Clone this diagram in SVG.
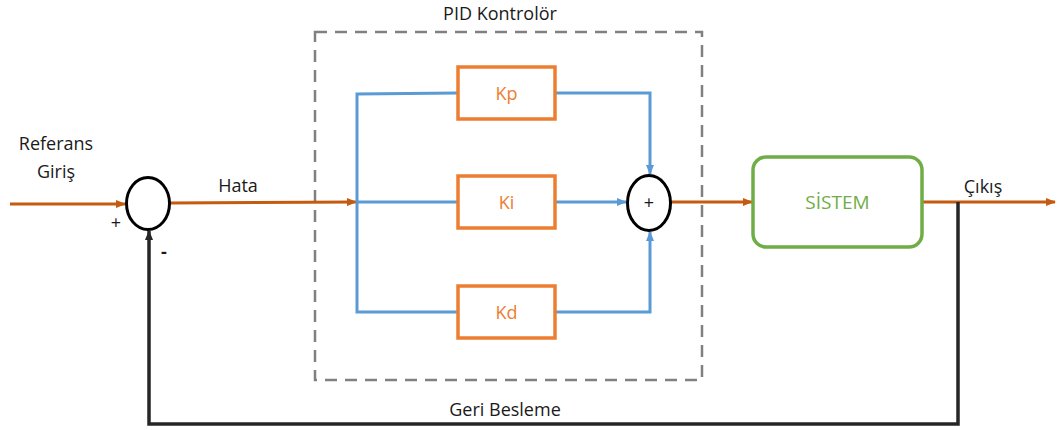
<svg xmlns="http://www.w3.org/2000/svg" width="1060" height="430" viewBox="0 0 1060 430">
  <style>
    .lbl { font-family: "Open Sans", "Liberation Sans", sans-serif; font-size: 18px; fill: #1a1a1a; }
    .gain { font-family: "Open Sans", "Liberation Sans", sans-serif; font-size: 18px; fill: #ED7D31; }
    .sys { font-family: "Open Sans", "Liberation Sans", sans-serif; font-size: 19px; fill: #70AD47; }
    .sig { fill: none; stroke: #C55A11; stroke-width: 3; }
    .branch { fill: none; stroke: #5B9BD5; stroke-width: 3; }
    .fb { fill: none; stroke: #262626; stroke-width: 3.5; }
    .gainbox { fill: #ffffff; stroke: #ED7D31; stroke-width: 3.5; }
    .sum { fill: #ffffff; stroke: #000000; stroke-width: 3; }
  </style>
  <defs>
    <marker id="arrOrange" markerWidth="10" markerHeight="8" refX="9" refY="4" orient="auto" markerUnits="userSpaceOnUse">
      <path d="M0,0 L10,4 L0,8 Z" fill="#C55A11"/>
    </marker>
    <marker id="arrBlue" markerWidth="10" markerHeight="8" refX="9" refY="4" orient="auto" markerUnits="userSpaceOnUse">
      <path d="M0,0 L10,4 L0,8 Z" fill="#5B9BD5"/>
    </marker>
    <marker id="arrBlack" markerWidth="10" markerHeight="8" refX="9" refY="4" orient="auto" markerUnits="userSpaceOnUse">
      <path d="M0,0 L10,4 L0,8 Z" fill="#262626"/>
    </marker>
  </defs>

  <rect width="1060" height="430" fill="#ffffff"/>

  <!-- controller boundary -->
  <g id="pid-frame">
    <rect x="315" y="32" width="387" height="348" fill="none" stroke="#808080" stroke-width="2.5" stroke-dasharray="12,8"/>
    <text class="lbl" x="500" y="20" text-anchor="middle">PID Kontrolör</text>
  </g>

  <!-- connectors -->
  <g id="connectors">
    <line class="sig" x1="10" y1="204" x2="125" y2="204" marker-end="url(#arrOrange)"/>
    <line class="sig" x1="170" y1="203" x2="356" y2="202" marker-end="url(#arrOrange)"/>
    <polyline class="branch" points="458,93 357,94 357,312 458,312"/>
    <line class="branch" x1="357" y1="202" x2="458" y2="202"/>
    <polyline class="branch" points="555,93 650,93 650,174" marker-end="url(#arrBlue)"/>
    <line class="branch" x1="555" y1="202" x2="626" y2="202" marker-end="url(#arrBlue)"/>
    <polyline class="branch" points="555,312 650,312 650,232" marker-end="url(#arrBlue)"/>
    <line class="sig" x1="671" y1="202" x2="752" y2="202" marker-end="url(#arrOrange)"/>
    <line class="sig" x1="922" y1="202" x2="1055" y2="202" marker-end="url(#arrOrange)"/>
    <polyline class="fb" points="958,202 958,424 149,424 149,231" marker-end="url(#arrBlack)"/>
  </g>

  <!-- input summing junction -->
  <g id="sum-error">
    <ellipse class="sum" cx="148" cy="203.5" rx="21.5" ry="26"/>
    <text class="lbl" x="116" y="229" text-anchor="middle" font-size="16">+</text>
    <text class="lbl" x="164" y="258" text-anchor="middle" font-size="22" font-weight="bold">-</text>
  </g>

  <g id="label-reference">
    <text class="lbl" x="56" y="150" text-anchor="middle">Referans</text>
    <text class="lbl" x="56" y="178" text-anchor="middle">Giriş</text>
  </g>
  <text id="label-error" class="lbl" x="238" y="192" text-anchor="middle">Hata</text>

  <g id="kp">
    <rect class="gainbox" x="458" y="67" width="97" height="52"/>
    <text class="gain" x="506.5" y="100" text-anchor="middle">Kp</text>
  </g>
  <g id="ki">
    <rect class="gainbox" x="458" y="176" width="97" height="52"/>
    <text class="gain" x="506.5" y="209" text-anchor="middle">Ki</text>
  </g>
  <g id="kd">
    <rect class="gainbox" x="458" y="286" width="97" height="52"/>
    <text class="gain" x="506.5" y="319" text-anchor="middle">Kd</text>
  </g>

  <!-- branch summing junction -->
  <g id="sum-pid">
    <ellipse class="sum" cx="649" cy="203" rx="21.5" ry="27.5"/>
    <text class="lbl" x="649" y="209" text-anchor="middle" font-size="16">+</text>
  </g>

  <g id="system">
    <rect x="753" y="157" width="169" height="90" rx="13" ry="13" fill="#ffffff" stroke="#70AD47" stroke-width="3.5"/>
    <text class="sys" x="837.5" y="209" text-anchor="middle">SİSTEM</text>
  </g>

  <text id="label-output" class="lbl" x="983" y="193" text-anchor="middle">Çıkış</text>
  <text id="label-feedback" class="lbl" x="505" y="416" text-anchor="middle">Geri Besleme</text>
</svg>
